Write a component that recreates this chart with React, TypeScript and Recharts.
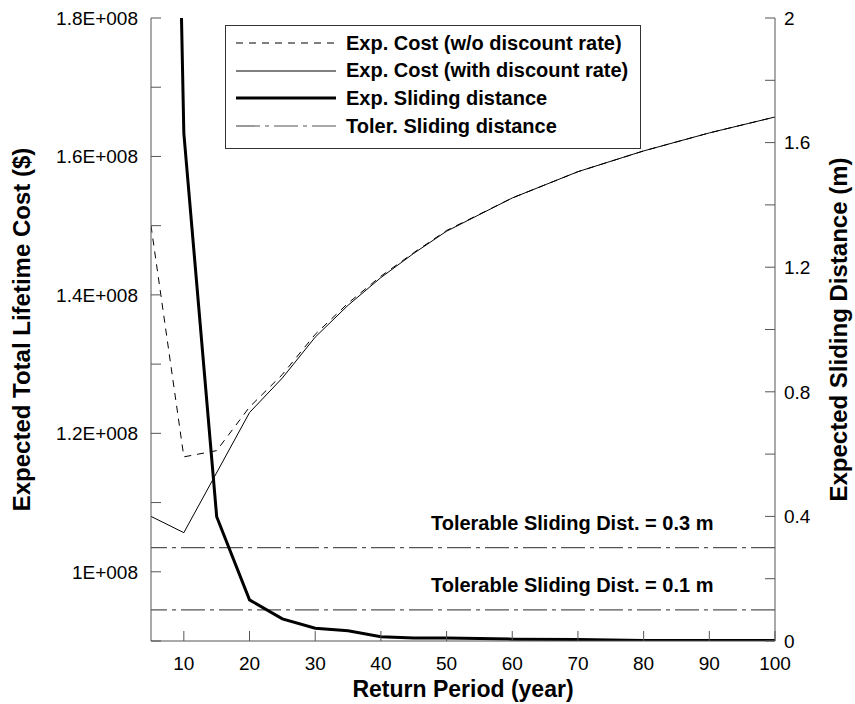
import React from 'react';
import { ComposedChart, Line, XAxis, YAxis, ReferenceLine, Legend } from 'recharts';

// ---------- data ----------
const costNoDiscountX = [5, 10, 15, 20, 25, 30, 35, 40, 45, 50, 60, 70, 80, 90, 100];
const costNoDiscountY = [1.5e8, 1.166e8, 1.175e8, 1.238e8, 1.285e8, 1.343e8, 1.388e8, 1.427e8, 1.461e8, 1.493e8, 1.54e8, 1.578e8, 1.608e8, 1.634e8, 1.657e8];

const costDiscountX = [5, 10, 20, 25, 30, 35, 40, 45, 50, 60, 70, 80, 90, 100];
const costDiscountY = [1.08e8, 1.0565e8, 1.23e8, 1.28e8, 1.339e8, 1.385e8, 1.425e8, 1.46e8, 1.492e8, 1.54e8, 1.578e8, 1.608e8, 1.634e8, 1.657e8];

const slidingX = [5, 10, 15, 20, 25, 30, 35, 40, 45, 50, 55, 60, 70, 80, 90, 100];
const slidingY = [6.8, 1.63, 0.399, 0.132, 0.071, 0.041, 0.033, 0.014, 0.01, 0.01, 0.008, 0.006, 0.005, 0.002, 0.002, 0.002];

const tolerableValues = [0.3, 0.1];

const seriesNames = [
  'Exp. Cost (w/o discount rate)',
  'Exp. Cost (with discount rate)',
  'Exp. Sliding distance',
  'Toler. Sliding distance',
];

const xTicks = [10, 20, 30, 40, 50, 60, 70, 80, 90, 100];
const leftTicks = [9e7, 1e8, 1.1e8, 1.2e8, 1.3e8, 1.4e8, 1.5e8, 1.6e8, 1.7e8, 1.8e8];
const leftLabeled = [1e8, 1.2e8, 1.4e8, 1.6e8, 1.8e8];
const rightTicks = [0, 0.2, 0.4, 0.6, 0.8, 1.0, 1.2, 1.4, 1.6, 1.8, 2.0];
const rightLabeled = [0, 0.4, 0.8, 1.2, 1.6, 2.0];

const xTitle = 'Return Period (year)';
const leftTitle = 'Expected Total Lifetime Cost ($)';
const rightTitle = 'Expected Sliding Distance (m)';
const annotText = (v: number) => `Tolerable Sliding Dist. = ${v} m`;

const toRows = (xs: number[], ys: number[]) => xs.map((x, i) => ({ x, y: ys[i] }));
const dataNoDisc = toRows(costNoDiscountX, costNoDiscountY);
const dataDisc = toRows(costDiscountX, costDiscountY);
const dataSliding = toRows(slidingX, slidingY);

// ---------- styles ----------
const FONT = '"Liberation Sans", Arial, Helvetica, sans-serif';
const AXIS = '#555';
const DASH = '7 6';
const DASHDOT = '24 5 4 5';
const TOL_COLOR = '#555';

const legendStyles = [
  { stroke: '#000', width: 1, dash: DASH },
  { stroke: '#000', width: 1, dash: undefined },
  { stroke: '#000', width: 3, dash: undefined },
  { stroke: TOL_COLOR, width: 1.2, dash: DASHDOT },
];

const fmtLeft = (v: number) =>
  leftLabeled.some((t) => Math.abs(t - v) < 1) ? `${Number((v / 1e8).toFixed(1))}E+008` : '';
const fmtRight = (v: number) =>
  rightLabeled.some((t) => Math.abs(t - v) < 1e-9) ? `${Number(v.toFixed(1))}` : '';

function LegendBox() {
  return (
    <div
      style={{
        width: 416,
        height: 124,
        border: '1px solid #333',
        boxSizing: 'border-box',
        background: '#fff',
        position: 'relative',
        fontFamily: FONT,
      }}
    >
      {seriesNames.map((name, i) => {
        const s = legendStyles[i];
        return (
          <div
            key={name}
            style={{
              position: 'absolute',
              left: 0,
              top: 17 + i * 27.7 - 14,
              height: 28,
              display: 'flex',
              alignItems: 'center',
              whiteSpace: 'nowrap',
            }}
          >
            <svg width={110} height={28} style={{ display: 'block' }}>
              <line x1={10} x2={110} y1={14} y2={14} stroke={s.stroke} strokeWidth={s.width} strokeDasharray={s.dash} />
            </svg>
            <span style={{ marginLeft: 10, fontWeight: 'bold', fontSize: 20, color: '#000' }}>{name}</span>
          </div>
        );
      })}
    </div>
  );
}

const titleStyle = { fontFamily: FONT, fontWeight: 'bold' as const, fontSize: 24, fill: '#000' };

const XTitle = (props: any) => {
  const vb = props.viewBox;
  return (
    <text x={vb.x + vb.width / 2} y={vb.y + 56} textAnchor="middle" {...titleStyle} fontSize={23}>
      {xTitle}
    </text>
  );
};
const LeftTitle = (props: any) => {
  const vb = props.viewBox;
  const x = vb.x + 30;
  const y = vb.y + vb.height / 2;
  return (
    <text x={x} y={y} textAnchor="middle" transform={`rotate(-90, ${x}, ${y})`} {...titleStyle}>
      {leftTitle}
    </text>
  );
};
const RightTitle = (props: any) => {
  const vb = props.viewBox;
  const x = vb.x + 72;
  const y = vb.y + vb.height / 2;
  return (
    <text x={x} y={y} textAnchor="middle" transform={`rotate(-90, ${x}, ${y})`} {...titleStyle}>
      {rightTitle}
    </text>
  );
};
const Annot = (text: string) => (props: any) => {
  const vb = props.viewBox;
  return (
    <text
      x={vb.x + vb.width * 0.675}
      y={vb.y - 18}
      textAnchor="middle"
      fontFamily={FONT}
      fontWeight="bold"
      fontSize={20}
      fill="#000"
    >
      {text}
    </text>
  );
};

const tickStyle = { fontSize: 19, fill: '#000', fontFamily: FONT };

export default function App() {
  return (
    <div style={{ position: 'absolute', left: 0, top: 0, width: 855, height: 704, background: '#fff' }}>
      <ComposedChart
        width={855}
        height={704}
        margin={{ top: 18, right: 0, bottom: 0, left: 0 }}
        style={{ fontFamily: FONT }}
      >
        <XAxis
          xAxisId="bottom"
          dataKey="x"
          type="number"
          domain={[5, 100]}
          ticks={xTicks}
          allowDataOverflow
          height={63}
          tickSize={-10}
          tickMargin={26}
          tick={tickStyle}
          axisLine={{ stroke: AXIS }}
          tickLine={{ stroke: AXIS }}
          label={<XTitle />}
        />
        <XAxis
          xAxisId="top"
          orientation="top"
          dataKey="x"
          type="number"
          domain={[5, 100]}
          height={0}
          tick={false}
          tickLine={false}
          axisLine={{ stroke: AXIS }}
        />
        <YAxis
          yAxisId="left"
          type="number"
          domain={[9e7, 1.8e8]}
          ticks={leftTicks}
          allowDataOverflow
          width={151}
          tickSize={-10}
          tickMargin={23}
          tickFormatter={fmtLeft}
          tick={tickStyle}
          axisLine={{ stroke: AXIS }}
          tickLine={{ stroke: AXIS }}
          label={<LeftTitle />}
        />
        <YAxis
          yAxisId="right"
          orientation="right"
          type="number"
          domain={[0, 2]}
          ticks={rightTicks}
          allowDataOverflow
          width={80}
          tickSize={-10}
          tickMargin={19}
          tickFormatter={fmtRight}
          tick={tickStyle}
          axisLine={{ stroke: AXIS }}
          tickLine={{ stroke: AXIS }}
          label={<RightTitle />}
        />
        {tolerableValues.map((v) => (
          <ReferenceLine
            key={v}
            xAxisId="bottom"
            yAxisId="right"
            y={v}
            stroke={TOL_COLOR}
            strokeWidth={1.2}
            strokeDasharray={DASHDOT}
            label={Annot(annotText(v))}
          />
        ))}
        <Line
          xAxisId="bottom"
          yAxisId="left"
          data={dataNoDisc}
          dataKey="y"
          name={seriesNames[0]}
          stroke="#000"
          strokeWidth={1}
          strokeDasharray={DASH}
          dot={false}
          activeDot={false}
          type="linear"
          isAnimationActive={false}
        />
        <Line
          xAxisId="bottom"
          yAxisId="left"
          data={dataDisc}
          dataKey="y"
          name={seriesNames[1]}
          stroke="#000"
          strokeWidth={1}
          dot={false}
          activeDot={false}
          type="linear"
          isAnimationActive={false}
        />
        <Line
          xAxisId="bottom"
          yAxisId="right"
          data={dataSliding}
          dataKey="y"
          name={seriesNames[2]}
          stroke="#000"
          strokeWidth={3}
          dot={false}
          activeDot={false}
          type="linear"
          isAnimationActive={false}
        />
        <Legend
          layout="horizontal"
          verticalAlign="middle"
          align="center"
          wrapperStyle={{ left: 225, top: 25, width: 416, height: 124 }}
          content={() => <LegendBox />}
        />
      </ComposedChart>
    </div>
  );
}
